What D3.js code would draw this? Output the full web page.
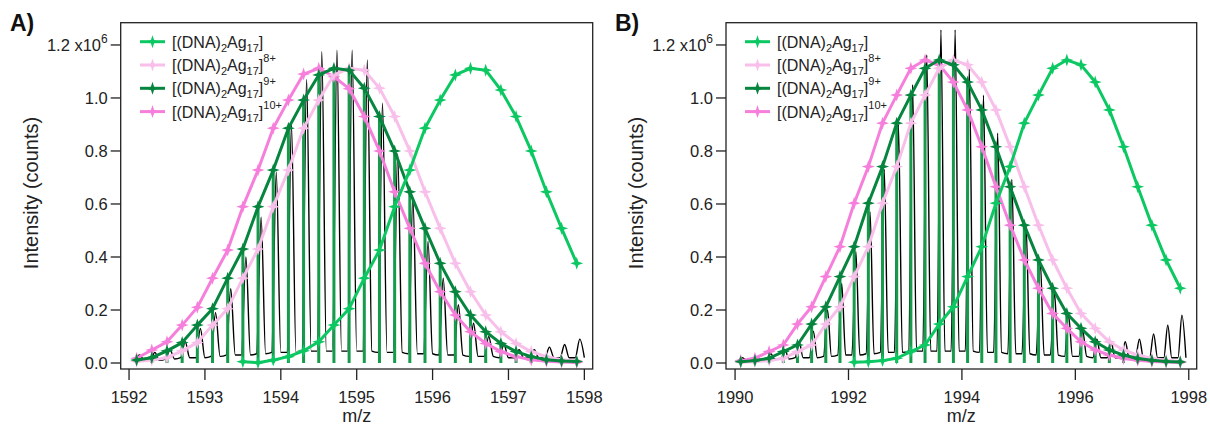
<!DOCTYPE html>
<html>
<head>
<meta charset="utf-8">
<script src="https://cdn.jsdelivr.net/npm/d3@7.9.0/dist/d3.min.js"></script>
<style>
  body { margin: 0; background: #fff; }
  svg { display: block; font-family: "Liberation Sans", Arial, sans-serif; }
</style>
</head>
<body>
<svg id="chart" width="1210" height="429"></svg>
<script>
// ---- data (intensity in units of 1e6 counts) ----
const legendCharges = ["", "8+", "9+", "10+"];
const yTicks = [0, 0.2, 0.4, 0.6, 0.8, 1.0, 1.2];
const xTicksA = [1592, 1593, 1594, 1595, 1596, 1597, 1598];
const xTicksB = [1990, 1992, 1994, 1996, 1998];

// panel A: simulated envelopes
const mzA = [1592.1,1592.3,1592.5,1592.7,1592.9,1593.1,1593.3,1593.5,1593.7,1593.9,1594.1,1594.3,1594.5,1594.7,1594.9,
             1595.1,1595.3,1595.5,1595.7,1595.9,1596.1,1596.3,1596.5,1596.7,1596.9,1597.1,1597.3,1597.5,1597.7,1597.9];
const noChargeA = [null,null,null,null,null,null,null,0.005,0.001,0.011,0.024,0.046,0.08,0.143,0.205,
                   0.32,0.426,0.59,0.728,0.886,0.992,1.087,1.112,1.105,1.03,0.93,0.80,0.646,0.508,0.376];
const z8A  = [0.006,0.011,0.02,0.046,0.077,0.143,0.205,0.32,0.43,0.59,0.728,0.886,0.992,1.087,1.112,
              1.105,1.037,0.93,0.80,0.646,0.508,0.376,0.269,0.181,0.118,0.074,0.043,0.024,0.012,0.008];
const z9A  = [0.011,0.02,0.046,0.077,0.143,0.205,0.32,0.43,0.59,0.728,0.886,0.992,1.087,1.112,1.105,
              1.037,0.93,0.80,0.646,0.508,0.376,0.269,0.181,0.118,0.074,0.043,0.024,0.012,0.008,0.006];
const z10A = [0.018,0.049,0.08,0.143,0.21,0.32,0.426,0.59,0.728,0.886,0.992,1.09,1.112,1.08,1.035,
              0.93,0.80,0.646,0.508,0.376,0.269,0.181,0.118,0.074,0.043,0.024,0.012,0.007,0.004,0.002];

// panel A: measured spectrum peaks
const peakMzA = [1592.14,1592.34,1592.54,1592.74,1592.94,1593.14,1593.34,1593.54,1593.74,1593.94,1594.14,1594.34,1594.54,1594.74,1594.94,
                 1595.14,1595.34,1595.54,1595.74,1595.94,1596.14,1596.34,1596.54,1596.74,1596.94,1597.14,1597.34,1597.54,1597.74,1597.94];
const peakHtA = [0.03,0.04,0.05,0.08,0.13,0.19,0.28,0.40,0.55,0.72,0.90,1.07,1.175,1.18,1.18,
                 1.143,0.98,0.79,0.62,0.46,0.32,0.22,0.15,0.10,0.07,0.05,0.05,0.06,0.07,0.09];
const baseA   = [0.01,0.01,0.015,0.02,0.02,0.025,0.03,0.03,0.035,0.04,0.04,0.045,0.045,0.045,0.045,
                 0.045,0.04,0.04,0.035,0.035,0.03,0.03,0.025,0.025,0.02,0.02,0.02,0.02,0.02,0.02];

// panel B: simulated envelopes
const mzB = [1990.10,1990.35,1990.60,1990.85,1991.10,1991.35,1991.60,1991.85,1992.10,1992.35,1992.60,1992.85,1993.10,1993.35,1993.60,1993.85,
             1994.10,1994.35,1994.60,1994.85,1995.10,1995.35,1995.60,1995.85,1996.10,1996.35,1996.60,1996.85,1997.10,1997.35,1997.60,1997.85];
const noChargeB = [null,null,null,null,null,null,null,null,0.003,0.005,0.009,0.018,0.043,0.068,0.147,0.212,
                   0.326,0.439,0.603,0.741,0.905,1.011,1.112,1.143,1.125,1.06,0.955,0.816,0.665,0.52,0.389,0.282];
const z8B  = [0.003,0.005,0.009,0.018,0.043,0.068,0.147,0.212,0.326,0.439,0.603,0.741,0.905,1.011,1.112,1.143,
              1.125,1.06,0.955,0.816,0.665,0.52,0.389,0.282,0.187,0.131,0.08,0.049,0.03,0.017,0.01,0.006];
const z9B  = [0.005,0.009,0.018,0.043,0.068,0.147,0.212,0.326,0.439,0.603,0.741,0.905,1.011,1.112,1.143,1.125,
              1.06,0.955,0.816,0.665,0.52,0.389,0.282,0.187,0.131,0.08,0.049,0.03,0.017,0.01,0.006,0.004];
const z10B = [0.009,0.018,0.043,0.068,0.147,0.212,0.326,0.439,0.603,0.741,0.905,1.011,1.112,1.143,1.125,1.06,
              0.955,0.816,0.665,0.52,0.389,0.282,0.187,0.131,0.08,0.049,0.03,0.017,0.01,0.006,0.004,0.002];

// panel B: measured spectrum peaks
const peakMzB = [1990.13,1990.38,1990.63,1990.88,1991.13,1991.38,1991.63,1991.88,1992.13,1992.38,1992.63,1992.88,1993.13,1993.38,1993.63,1993.88,
                 1994.13,1994.38,1994.63,1994.88,1995.13,1995.38,1995.63,1995.88,1996.13,1996.38,1996.63,1996.88,1997.13,1997.38,1997.63,1997.88];
const peakHtB = [0.02,0.025,0.035,0.05,0.08,0.12,0.2,0.3,0.42,0.57,0.73,0.9,1.05,1.162,1.257,1.257,
                 1.112,1.01,0.867,0.693,0.52,0.39,0.27,0.18,0.12,0.09,0.08,0.08,0.09,0.11,0.143,0.18];
const baseB   = [0.01,0.01,0.015,0.015,0.02,0.02,0.025,0.03,0.03,0.035,0.04,0.04,0.045,0.045,0.045,0.045,
                 0.045,0.04,0.04,0.035,0.035,0.03,0.03,0.025,0.025,0.02,0.02,0.02,0.02,0.02,0.02,0.02];

// ---- styles ----
const colors = {
  none: "#0cc862",
  z8: "#f9bfeb",
  z9: "#06853f",
  z10: "#f67fdc",
  stick: "#169a4b"
};

const svg = d3.select("#chart");

// four-point star marker
function starPath(r, a) {
  return `M0,${-r}L${a},${-a}L${r},0L${a},${a}L0,${r}L${-a},${a}L${-r},0L${-a},${-a}Z`;
}

function drawPanel(p) {
  const x = d3.scaleLinear().domain(p.xDomain).range(p.xRange);
  const y = d3.scaleLinear().domain([-0.0226, 1.284]).range([369, 22.7]);
  const g = svg.append("g");

  const clipId = "clip" + p.id;
  svg.append("clipPath").attr("id", clipId)
    .append("rect")
    .attr("x", p.xRange[0]).attr("y", 22.7)
    .attr("width", p.xRange[1] - p.xRange[0]).attr("height", 369 - 22.7);

  const plot = g.append("g").attr("clip-path", `url(#${clipId})`);

  // measured spectrum (black)
  const pts = [];
  p.peakMz.forEach((m, i) => {
    pts.push([m - p.halfWidth, p.base[i]]);
    pts.push([m, p.peakHt[i]]);
    pts.push([m + p.halfWidth, p.base[i]]);
  });
  plot.append("path")
    .attr("d", d3.line().x(d => x(d[0])).y(d => y(d[1])).curve(d3.curveMonotoneX)(pts))
    .attr("fill", "none")
    .attr("stroke", "#000")
    .attr("stroke-width", 1.4);

  // isotope sticks (9+)
  plot.selectAll(".stick")
    .data(p.mz.map((m, i) => ({ m, v: p.z9[i] })))
    .enter().append("line")
    .attr("x1", d => x(d.m)).attr("x2", d => x(d.m))
    .attr("y1", y(0)).attr("y2", d => y(d.v))
    .attr("stroke", colors.stick)
    .attr("stroke-width", 3);

  const series = [
    { vals: p.z10, color: colors.z10 },
    { vals: p.z8, color: colors.z8 },
    { vals: p.z9, color: colors.z9 },
    { vals: p.none, color: colors.none }
  ];
  const line = d3.line()
    .defined(d => d.v != null)
    .x(d => x(d.m)).y(d => y(d.v));

  series.forEach(s => {
    const data = p.mz.map((m, i) => ({ m, v: s.vals[i] }));
    plot.append("path")
      .attr("d", line(data))
      .attr("fill", "none")
      .attr("stroke", s.color)
      .attr("stroke-width", 3)
      .attr("stroke-linejoin", "round");
    plot.selectAll(null)
      .data(data.filter(d => d.v != null))
      .enter().append("path")
      .attr("d", starPath(6.5, 1.6))
      .attr("transform", d => `translate(${x(d.m)},${y(d.v)})`)
      .attr("fill", s.color);
  });

  // frame
  g.append("rect")
    .attr("x", p.xRange[0]).attr("y", 22.7)
    .attr("width", p.xRange[1] - p.xRange[0]).attr("height", 369 - 22.7)
    .attr("fill", "none").attr("stroke", "#222").attr("stroke-width", 1.3);

  // y axis
  const yAxis = g.append("g");
  yTicks.forEach(t => {
    yAxis.append("line")
      .attr("x1", p.xRange[0] - 10).attr("x2", p.xRange[0])
      .attr("y1", y(t)).attr("y2", y(t))
      .attr("stroke", "#222").attr("stroke-width", 1.3);
    const txt = yAxis.append("text")
      .attr("x", p.xRange[0] - 13).attr("y", y(t) + 6)
      .attr("text-anchor", "end")
      .attr("font-size", 16.5).attr("fill", "#222");
    if (t === 1.2) {
      txt.append("tspan").text("1.2 x10");
      txt.append("tspan").attr("dy", -8).attr("font-size", 12).text("6");
    } else {
      txt.text(d3.format(".1f")(t));
    }
  });

  // x axis
  const xAxis = g.append("g");
  p.xTicks.forEach(t => {
    xAxis.append("line")
      .attr("x1", x(t)).attr("x2", x(t))
      .attr("y1", 369).attr("y2", 380)
      .attr("stroke", "#222").attr("stroke-width", 1.3);
    xAxis.append("text")
      .attr("x", x(t)).attr("y", 403)
      .attr("text-anchor", "middle")
      .attr("font-size", 16.5).attr("fill", "#222")
      .text(t);
  });

  // axis titles
  g.append("text")
    .attr("transform", `translate(${p.yTitleX},193) rotate(-90)`)
    .attr("text-anchor", "middle")
    .attr("font-size", 20).attr("fill", "#222")
    .text("Intensity (counts)");
  g.append("text")
    .attr("x", (p.xRange[0] + p.xRange[1]) / 2).attr("y", 422)
    .attr("text-anchor", "middle")
    .attr("font-size", 18).attr("fill", "#222")
    .text("m/z");

  // panel letter
  g.append("text")
    .attr("x", p.letterX).attr("y", 31)
    .attr("font-size", 23).attr("font-weight", "bold").attr("fill", "#111")
    .text(p.id + ")");

  // legend
  const legColors = [colors.none, colors.z8, colors.z9, colors.z10];
  legColors.forEach((c, i) => {
    const ly = 41.7 + i * 23.3;
    const lg = g.append("g").attr("transform", `translate(${p.legendX},${ly})`);
    lg.append("line").attr("x1", 0).attr("x2", 25).attr("y1", 0).attr("y2", 0)
      .attr("stroke", c).attr("stroke-width", 3);
    lg.append("path").attr("d", starPath(6.5, 1.6)).attr("transform", "translate(12.5,0)").attr("fill", c);
    const t = lg.append("text").attr("x", 32).attr("y", 6)
      .attr("font-size", 16).attr("fill", "#222");
    t.append("tspan").text("[(DNA)");
    t.append("tspan").attr("dy", 4).attr("font-size", 11).text("2");
    t.append("tspan").attr("dy", -4).text("Ag");
    t.append("tspan").attr("dy", 4).attr("font-size", 11).text("17");
    t.append("tspan").attr("dy", -4).text("]");
    if (legendCharges[i]) {
      t.append("tspan").attr("dy", -9).attr("font-size", 11).text(legendCharges[i]);
    }
  });
}

drawPanel({
  id: "A",
  xDomain: [1591.89, 1598.11], xRange: [120.7, 592.7],
  xTicks: xTicksA, mz: mzA,
  none: noChargeA, z8: z8A, z9: z9A, z10: z10A,
  peakMz: peakMzA, peakHt: peakHtA, base: baseA, halfWidth: 0.06,
  yTitleX: 38, letterX: 10, legendX: 140
});

drawPanel({
  id: "B",
  xDomain: [1989.84, 1998.14], xRange: [726, 1196.7],
  xTicks: xTicksB, mz: mzB,
  none: noChargeB, z8: z8B, z9: z9B, z10: z10B,
  peakMz: peakMzB, peakHt: peakHtB, base: baseB, halfWidth: 0.07,
  yTitleX: 643, letterX: 615, legendX: 745
});
</script>
</body>
</html>
